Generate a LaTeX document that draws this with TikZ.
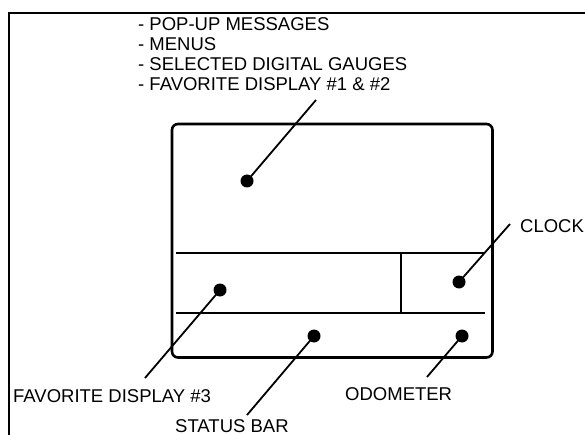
\documentclass[tikz,border=0pt]{standalone}
\usepackage{fontspec}
\setmainfont{Liberation Sans}
\begin{document}
\begin{tikzpicture}[x=1pt,y=-1pt,
  lbl/.style={anchor=base west,inner sep=0pt,font=\fontsize{18.5}{20}\selectfont},
  dot/.style={circle,fill=black,inner sep=0pt,minimum size=13pt},
  leader/.style={line width=1.8pt},
  inner/.style={line width=2pt}]
\useasboundingbox (0,0) rectangle (585,435);
% outer frame (only top and left visible)
\draw[line width=2pt] (9,436) -- (9,13.5) -- (586,13.5);
% screen
\node[draw,line width=2.6pt,rounded corners=6pt,minimum width=320.5pt,minimum height=233.5pt,inner sep=0pt,outer sep=0pt] (screen) at (332.25,240.75) {};
\draw[inner] (176,253.3) -- (484,253.3);
\draw[inner] (176,312.8) -- (484.5,312.8);
\draw[inner] (401,253.3) -- (401,312.8);
% top text
\node[lbl] (t1) at (138,30.5) {- POP-UP MESSAGES};
\node[lbl] (t2) at (138,50.5) {- MENUS};
\node[lbl] (t3) at (138,70.5) {- SELECTED DIGITAL GAUGES};
\node[lbl] (t4) at (138,90.5) {- FAVORITE DISPLAY \#1 \& \#2};
% labels
\node[lbl] (clock) at (520,233) {CLOCK};
\node[lbl] (fav) at (13,402) {FAVORITE DISPLAY \#3};
\node[lbl] (status) at (175,432) {STATUS BAR};
\node[lbl] (odo) at (345,400) {ODOMETER};
% dots
\node[dot] (dmain) at (247,181) {};
\node[dot] (dfav) at (220,290) {};
\node[dot] (dclock) at (459,282) {};
\node[dot] (dstatus) at (314,336) {};
\node[dot] (dodo) at (462,336) {};
% leader ends
\coordinate (emain) at (316,100);
\coordinate (eclock) at (510,224);
\coordinate (efav) at (145,378);
\coordinate (estatus) at (247,415);
\coordinate (eodo) at (427,377);
\draw[leader] (dmain.center) -- (emain);
\draw[leader] (dclock.center) -- (eclock);
\draw[leader] (dfav.center) -- (efav);
\draw[leader] (dstatus.center) -- (estatus);
\draw[leader] (dodo.center) -- (eodo);
\end{tikzpicture}
\end{document}
